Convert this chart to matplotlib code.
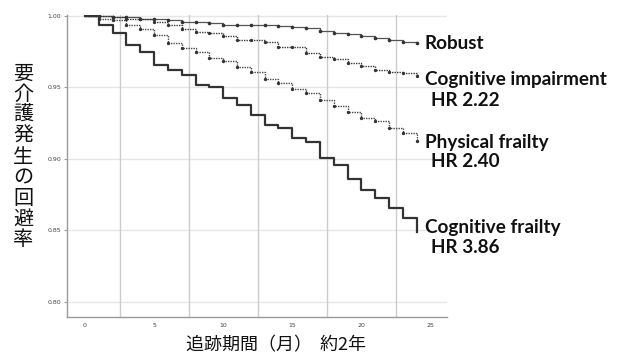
import matplotlib
matplotlib.use("Agg")
import matplotlib.pyplot as plt
from matplotlib.patches import Rectangle

# ---- data ----
months = list(range(0, 25))
robust = [1.000, 1.000, 0.9995, 0.999, 0.998, 0.998, 0.997, 0.996, 0.996, 0.995,
          0.994, 0.994, 0.9937, 0.9937, 0.9930, 0.9923, 0.9916, 0.9895, 0.9881,
          0.9874, 0.9860, 0.9846, 0.9832, 0.9818, 0.9811]
cog_impair = [1.000, 0.9997, 0.9993, 0.998, 0.998, 0.996, 0.994, 0.991, 0.989,
              0.988, 0.986, 0.983, 0.983, 0.982, 0.978, 0.978, 0.974, 0.971,
              0.970, 0.967, 0.965, 0.962, 0.961, 0.960, 0.958]
phys_frail = [1.000, 0.9979, 0.9972, 0.9937, 0.9909, 0.9867, 0.9811, 0.9776,
              0.9748, 0.9706, 0.9685, 0.9643, 0.9609, 0.9560, 0.9532, 0.9490,
              0.9462, 0.9413, 0.9371, 0.9329, 0.9287, 0.9266, 0.9217, 0.9182, 0.9125]
cog_frail = [1.000, 0.994, 0.988, 0.980, 0.975, 0.966, 0.962, 0.959, 0.952,
             0.950, 0.943, 0.938, 0.931, 0.924, 0.922, 0.915, 0.912, 0.901,
             0.896, 0.886, 0.878, 0.873, 0.866, 0.859, 0.849]
x_ticks = [0, 5, 10, 15, 20, 25]
y_ticks = [0.80, 0.85, 0.90, 0.95, 1.00]
x_grid = [2.5, 7.5, 12.5, 17.5, 22.5]
labels = ["Robust", "Cognitive impairment", "Physical frailty", "Cognitive frailty"]
hr_labels = ["HR 2.22", "HR 2.40", "HR 3.86"]
ylabel = "要介護発生の回避率"
xlabel = "追跡期間（月）  約2年"

W, H = 620, 361
fig = plt.figure(figsize=(W / 100, H / 100), dpi=100)

def fx(px):
    return px / W

def fy(py):
    return 1 - py / H

ax = fig.add_axes([fx(67), fy(317), fx(447) - fx(67), fy(15) - fy(317)])
ax.set_xlim(-1.3, 26.2)
ax.set_ylim(0.7895, 1.0007)

for s in ["top", "right"]:
    ax.spines[s].set_visible(False)
for s in ["left", "bottom"]:
    ax.spines[s].set_color("#9a9a9a")
    ax.spines[s].set_linewidth(1.0)

for yv in y_ticks:
    ax.axhline(yv, color="#e6e6e6", lw=1.0, zorder=0)
for xv in x_grid:
    ax.axvline(xv, color="#cccccc", lw=1.0, zorder=0)

# white patches (as in the reference) behind the HR labels
for (x0, y0, x1, y1) in [(355, 86, 620, 106), (380, 149, 620, 169), (373, 233, 620, 251)]:
    fig.patches.append(Rectangle((fx(x0), fy(y1)), fx(x1) - fx(x0), fy(y0) - fy(y1),
                                 transform=fig.transFigure, facecolor="white",
                                 edgecolor="none", zorder=1))

ax.set_zorder(2)
ax.patch.set_alpha(0)

ax.step(months, robust, where="post", color="#555555", lw=0.9, zorder=3)
ax.plot(months[1:], robust[1:], ls="none", marker="o", ms=1.6, color="#333333", zorder=4)
ax.step(months, cog_impair, where="post", color="#3a3a3a", lw=1.0, ls=(0, (1, 0.8)), zorder=3)
ax.plot(months[1:], cog_impair[1:], ls="none", marker="o", ms=1.4, color="#333333", zorder=4)
ax.step(months, phys_frail, where="post", color="#4a4a4a", lw=1.0, ls=(0, (1, 0.8)), zorder=3)
ax.plot(months[1:], phys_frail[1:], ls="none", marker="o", ms=1.4, color="#333333", zorder=4)
ax.step(months, cog_frail, where="post", color="#333333", lw=1.6, zorder=3)

ax.set_xticks(x_ticks)
ax.set_xticklabels([str(v) for v in x_ticks])
ax.set_yticks(y_ticks)
ax.set_yticklabels([f"{v:.2f}" for v in y_ticks])
ax.tick_params(axis="both", labelsize=4.5, colors="#444444", length=0, pad=4)
ax.tick_params(axis="y", length=2, color="#9a9a9a", pad=2)

jp = ["Noto Sans CJK JP", "DejaVu Sans"]
fig.text(fx(23), fy(157), "\n".join(ylabel), family=jp, fontsize=14.5,
         ha="center", va="center", linespacing=0.98, color="#111111")
fig.text(fx(276), fy(345), xlabel, family=jp, fontsize=13, ha="center",
         va="center", color="#111111")

lab = ["Lato", "DejaVu Sans"]
txt = [("Robust", 425, 49), ("Cognitive impairment", 425, 85), ("HR 2.22", 431, 106),
       ("Physical frailty", 425, 148), ("HR 2.40", 431, 167),
       ("Cognitive frailty", 425, 233), ("HR 3.86", 431, 253)]
for t, x, y in txt:
    fig.text(fx(x), fy(y), t, family=lab, fontweight="bold", fontsize=13.6,
             ha="left", va="baseline", color="#111111", zorder=5)

fig.savefig("out.png", dpi=100)
